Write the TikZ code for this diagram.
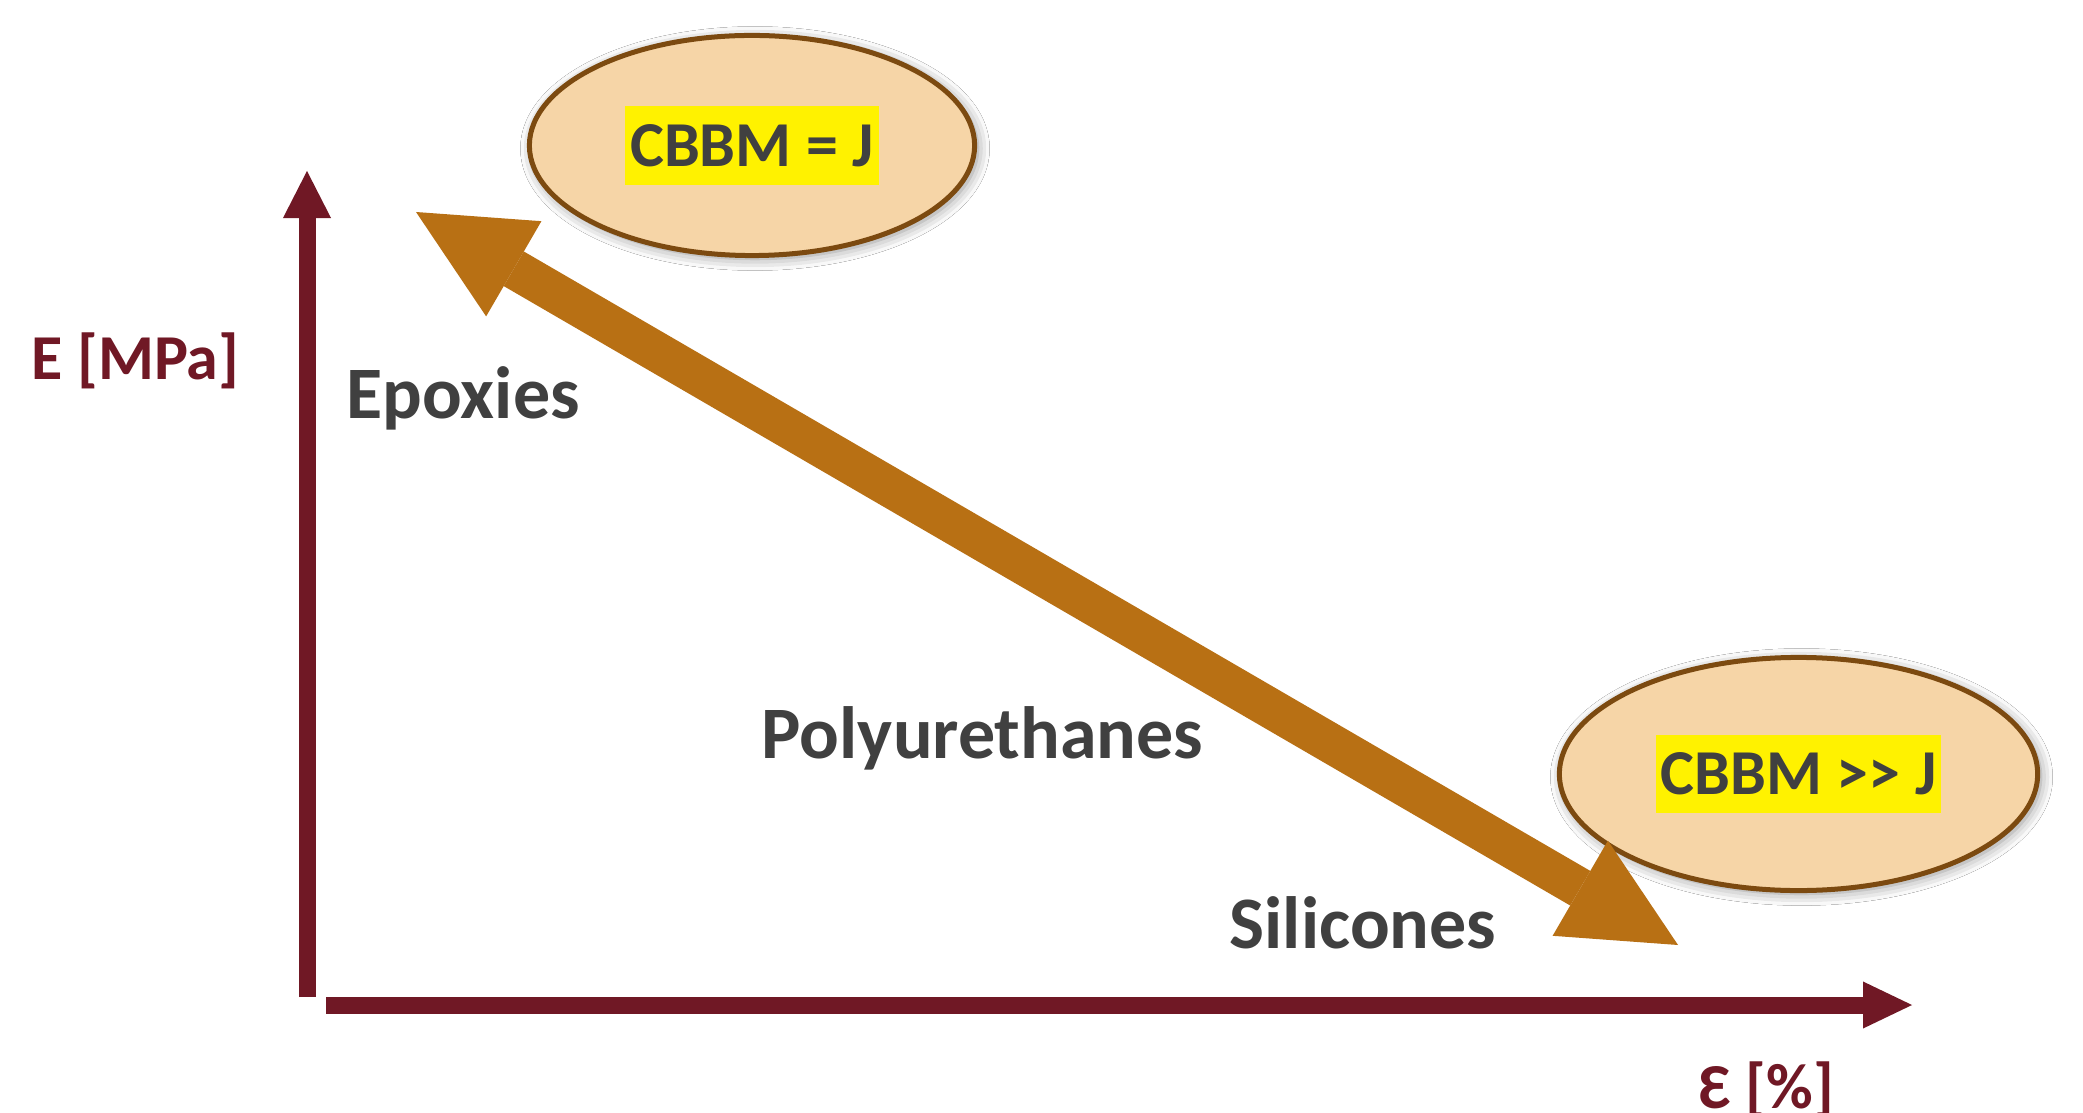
\documentclass[tikz,border=0pt]{standalone}
\usepackage{fontspec}
\setmainfont{Carlito}
\usetikzlibrary{arrows.meta,shapes.geometric,shadows.blur}

\definecolor{axisred}{RGB}{112,24,37}
\definecolor{arrowbrown}{RGB}{184,112,20}
\definecolor{bubblefill}{RGB}{246,213,167}
\definecolor{bubbleline}{RGB}{124,74,16}
\definecolor{textgray}{RGB}{64,64,64}

\tikzset{
  axisline/.style={draw=axisred, line width=0.17cm},
  axislabel/.style={text=axisred, font=\fontsize{18.2}{22}\selectfont\bfseries, inner sep=0pt, anchor=base west},
  material/.style={text=textgray, font=\fontsize{21.05}{25}\selectfont\bfseries, inner sep=0pt, anchor=base west},
  bubble/.style={ellipse, draw=bubbleline, fill=bubblefill, line width=0.05cm, inner sep=0pt,
    blur shadow={shadow xshift=0.03cm, shadow yshift=-0.03cm, shadow blur radius=0.12cm, shadow opacity=45}},
  highlight/.style={fill=yellow, text=textgray, font=\fontsize{18.2}{22}\selectfont\bfseries,
    text height=0.41cm, text depth=0pt, inner xsep=0.05cm, inner ysep=0.185cm},
  trend/.style={draw=arrowbrown, line width=0.40cm,
    {Triangle[length=1.13cm,width=1.10cm,line width=0pt]}-{Triangle[length=1.13cm,width=1.10cm,line width=0pt]}}
}

\begin{document}
\begin{tikzpicture}[x=0.01cm, y=-0.01cm]
  \useasboundingbox[fill=white] (0,0) rectangle (2083,1113);

  % axes
  \coordinate (yfoot) at (307,997);
  \coordinate (yhead) at (307,171);
  \coordinate (xfoot) at (326,1005);
  \coordinate (xhead) at (1912,1005);
  \draw[axisline, -{Triangle[length=0.47cm,width=0.48cm,line width=0pt]}] (yfoot) -- (yhead);
  \draw[axisline, -{Triangle[length=0.49cm,width=0.47cm,line width=0pt]}] (xfoot) -- (xhead);

  \node[axislabel] (ylab) at (31,380) {E [MPa]};
  \node[axislabel] (xlab) at (1699,1108) {Ɛ [\%]};

  % material classes
  \node[material] (epox) at (346,419) {Epoxies};
  \node[material] (poly) at (761,758) {Polyurethanes};
  \node[material] (sili) at (1229,948) {Silicones};

  % bubbles
  \node[bubble, minimum width=4.45cm, minimum height=2.20cm] (b1) at (752,145.5) {};
  \node[highlight] (t1) at (b1.center) {CBBM = J};
  \node[bubble, minimum width=4.78cm, minimum height=2.33cm] (b2) at (1798.5,774) {};
  \node[highlight] (t2) at (b2.center) {CBBM >\kern0pt> J};

  % trend arrow
  \coordinate (stiff) at (416,212);
  \coordinate (soft) at (1678,945);
  \draw[trend] (stiff) -- (soft);
\end{tikzpicture}
\end{document}
